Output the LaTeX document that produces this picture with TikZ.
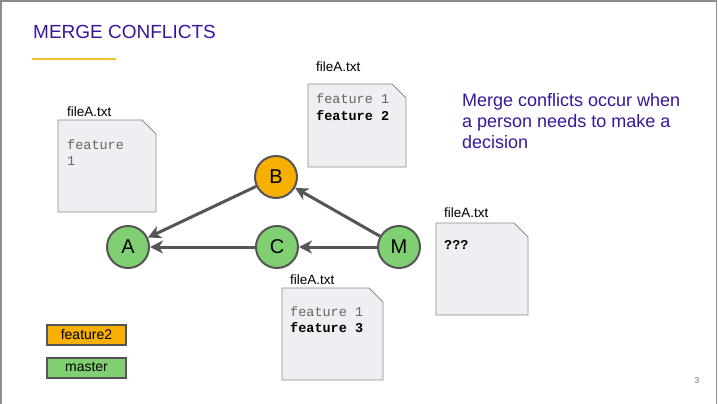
\documentclass[tikz,border=0pt]{standalone}
\usepackage{fontspec}
\setmainfont{Liberation Sans}
\setsansfont{Liberation Sans}
\setmonofont{Liberation Mono}
\usetikzlibrary{arrows.meta}
\definecolor{ttl}{HTML}{36169C}
\definecolor{gold}{HTML}{F2C12E}
\definecolor{grn}{HTML}{80CF72}
\definecolor{org}{HTML}{F7AF00}
\definecolor{filefill}{HTML}{EFEEF2}
\definecolor{fileedge}{HTML}{8C8C8C}
\definecolor{dk}{HTML}{555555}
\definecolor{mono}{HTML}{666666}
\tikzset{
  commit/.style={circle, draw=dk, line width=2pt, minimum size=42pt, inner sep=0pt, font=\fontsize{20}{20}\selectfont},
  arr/.style={draw=dk, line width=3pt, -{Stealth[length=13pt, width=13pt, inset=4pt]}},
  fileshape/.style={fill=filefill, draw=fileedge, line width=0.8pt},
  flabel/.style={anchor=west, inner sep=0pt, font=\fontsize{13.5}{13.5}\selectfont},
  mtext/.style={anchor=west, inner sep=0pt, text=mono, font=\ttfamily\fontsize{13.5}{13.5}\selectfont},
  btext/.style={anchor=west, inner sep=0pt, text=black, font=\ttfamily\bfseries\fontsize{13.5}{13.5}\selectfont},
  legend/.style={draw=dk, line width=2pt, minimum width=79pt, minimum height=20pt, inner sep=0pt, font=\fontsize{14}{14}\selectfont}
}
\newcommand{\docshape}[4]{%
  \path[fileshape] (#1,#2) -- (#3-14,#2) -- (#3,#2+14) -- (#3,#4) -- (#1,#4) -- cycle;}
\begin{document}
\begin{tikzpicture}[x=1pt, y=-1pt]
\useasboundingbox (0,0) rectangle (718,404);
\draw[color=black!45, line width=1.2pt] (1,404) -- (1,1) -- (716.5,1) -- (716.5,404);
% title
\node[anchor=base west, inner sep=0pt, text=ttl, font=\fontsize{19}{19}\selectfont] (title) at (33,39) {MERGE CONFLICTS};
\draw[gold, line width=2pt] (32,59) -- (116,59);
% right text (base anchor is the last line's baseline)
\node[anchor=base west, inner sep=0pt, text=ttl, align=left, font=\fontsize{18}{21}\selectfont] (note) at (462,148) {Merge conflicts occur when\\a person needs to make a\\decision};
% files
\docshape{58}{120}{156}{212}
\node[flabel] (l1) at (67,112) {fileA.txt};
\node[mtext] (t1a) at (67,145) {feature};
\node[mtext] (t1b) at (67,161) {1};
\docshape{308}{84}{406}{167}
\node[flabel] (l2) at (316,67) {fileA.txt};
\node[mtext] (t2a) at (316,99) {feature 1};
\node[btext] (t2b) at (316,116) {feature 2};
\docshape{436}{223}{528}{315}
\node[flabel] (l3) at (444,213) {fileA.txt};
\node[btext] (t3a) at (444,245) {???};
\docshape{282}{288}{383}{380}
\node[flabel] (l4) at (290,280) {fileA.txt};
\node[mtext] (t4a) at (290,312) {feature 1};
\node[btext] (t4b) at (290,328) {feature 3};
% commits
\node[commit, fill=grn] (A) at (128,247) {A};
\node[commit, fill=org] (B) at (276,177) {B};
\node[commit, fill=grn] (C) at (277,247) {C};
\node[commit, fill=grn] (M) at (399,247) {M};
\draw[arr] (B) -- (A);
\draw[arr] (C) -- (A);
\draw[arr] (M) -- (C);
\draw[arr] (M) -- (B);
% legend
\node[legend, fill=org] (lf) at (86.5,335) {feature2};
\node[legend, fill=grn] (lm) at (86.5,367.5) {master};
% page number
\node[text=black!55, font=\fontsize{8.5}{8.5}\selectfont, inner sep=0pt] (pg) at (697,381) {3};
\end{tikzpicture}
\end{document}
